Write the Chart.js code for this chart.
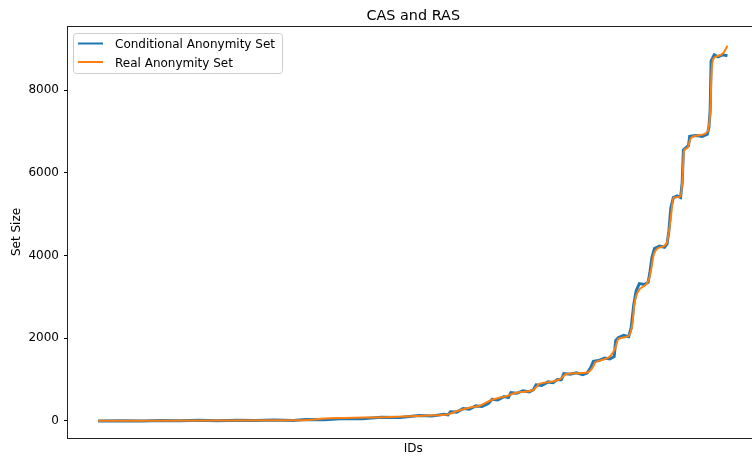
<!DOCTYPE html>
<html>
<head>
<meta charset="utf-8">
<title>CAS and RAS</title>
<script src="https://cdn.jsdelivr.net/npm/chart.js@4"></script>
<style>
  html, body { margin: 0; padding: 0; background: #fff; overflow: hidden; }
  #wrap { width: 760px; height: 458px; }
</style>
</head>
<body>
<div id="wrap"><canvas id="myChart"></canvas></div>
<script>
// Conditional Anonymity Set (blue, stepped and noisy)
const casIds = [0, 400, 700, 1000, 1300, 1600, 1900, 2200, 2500, 2800, 3100, 3300, 3600, 3900, 4200, 4500, 4800,
  5100, 5300, 5500, 5560, 5600, 5700, 5800, 5900, 6000, 6100, 6200, 6260, 6350, 6450, 6520, 6560, 6650, 6750,
  6850, 6920, 6960, 7050, 7150, 7230, 7300, 7360, 7400, 7500, 7600, 7700, 7770, 7830, 7870, 7950, 8050, 8130,
  8200, 8225, 8270, 8350, 8430, 8470, 8510, 8550, 8600, 8680, 8740, 8770, 8800, 8840, 8920, 9000, 9040, 9070,
  9100, 9140, 9200, 9255, 9280, 9300, 9350, 9380, 9400, 9500, 9600, 9680, 9705, 9725, 9740, 9790, 9850, 9920, 10000];
const casSizes = [0, 8, 2, 12, 6, 15, 8, 18, 10, 22, 14, 35, 30, 60, 55, 90, 85,
  130, 120, 160, 145, 225, 215, 300, 285, 365, 350, 420, 525, 510, 590, 565, 685, 670, 730,
  705, 760, 875, 860, 945, 925, 1005, 1000, 1145, 1130, 1165, 1120, 1160, 1300, 1440, 1460, 1520, 1500,
  1560, 1950, 2020, 2070, 2040, 2250, 2800, 3150, 3320, 3300, 3350, 3620, 3950, 4170, 4230, 4200, 4280, 4600,
  5150, 5400, 5440, 5400, 5750, 6550, 6620, 6650, 6880, 6900, 6880, 6930, 7100, 7500, 8700, 8850, 8800, 8850, 8830];

// Real Anonymity Set (orange, smooth)
const rasIds = [0, 3211, 3687, 4642, 5278, 5548, 5707, 5914, 6073, 6232, 6391, 6502, 6598, 6709, 6916, 7011,
  7234, 7345, 7440, 7774, 7854, 7901, 7981, 8140, 8219, 8267, 8426, 8490, 8522, 8585, 8744, 8792, 8824, 8903,
  9030, 9094, 9141, 9253, 9285, 9308, 9364, 9412, 9491, 9682, 9714, 9730, 9746, 9777, 9857, 9936, 10000];
const rasSizes = [5, 20, 65, 97, 133, 157, 242, 326, 375, 496, 568, 605, 665, 701, 750, 895,
  955, 1016, 1136, 1173, 1282, 1415, 1463, 1572, 1765, 1983, 2055, 2345, 2829, 3143, 3385, 3700, 3990, 4183,
  4280, 4836, 5392, 5428, 5852, 6529, 6601, 6819, 6891, 6988, 7254, 7568, 8390, 8753, 8826, 8898, 9068];

const yTicks = [0, 2000, 4000, 6000, 8000];
const seriesLabels = ["Conditional Anonymity Set", "Real Anonymity Set"];
const titleText = "CAS and RAS";

const ctx = document.getElementById("myChart");

Chart.defaults.font.family = "'DejaVu Sans', sans-serif";
Chart.defaults.font.size = 12;
Chart.defaults.color = "#000";

// spines, title and a matplotlib-like legend box
const framePlugin = {
  id: "frame",
  afterDraw(chart) {
    const c = chart.ctx;
    const a = chart.chartArea;
    c.save();
    c.strokeStyle = "#222";
    c.lineWidth = 1;
    c.strokeRect(a.left - 0.5, a.top + 0.5, a.right - a.left, a.bottom - a.top);

    c.fillStyle = "#000";
    c.font = "14.4px 'DejaVu Sans'";
    c.textAlign = "center";
    c.textBaseline = "alphabetic";
    c.fillText(titleText, (a.left + a.right) / 2, 20);

    c.beginPath();
    c.roundRect(73.5, 33.5, 209, 40, 3);
    c.fillStyle = "rgba(255,255,255,0.8)";
    c.fill();
    c.strokeStyle = "#cccccc";
    c.stroke();

    c.font = "12px 'DejaVu Sans'";
    c.textAlign = "left";
    chart.data.datasets.forEach((ds, i) => {
      const y = 43.5 + i * 18.5;
      c.beginPath();
      c.moveTo(78, y);
      c.lineTo(103, y);
      c.strokeStyle = ds.borderColor;
      c.lineWidth = 2;
      c.stroke();
      c.fillStyle = "#000";
      c.fillText(ds.label, 115, y + 4.5);
    });
    c.restore();
  }
};

new Chart(ctx, {
  type: "line",
  data: {
    datasets: [
      {
        label: seriesLabels[0],
        data: casIds.map((id, i) => ({ x: id, y: casSizes[i] })),
        borderColor: "#1f77b4",
        borderWidth: 3,
        pointRadius: 0,
        tension: 0,
        order: 2,
      },
      {
        label: seriesLabels[1],
        data: rasIds.map((id, i) => ({ x: id, y: rasSizes[i] })),
        borderColor: "#ff7f0e",
        borderWidth: 2,
        pointRadius: 0,
        cubicInterpolationMode: "monotone",
        order: 1,
      },
    ],
  },
  options: {
    responsive: true,
    maintainAspectRatio: false,
    animation: false,
    layout: { padding: { top: 26, right: 1.5, bottom: 0, left: 0 } },
    plugins: {
      legend: { display: false },
      title: { display: false },
      tooltip: { enabled: false },
    },
    scales: {
      x: {
        type: "linear",
        min: -477,
        max: 10493,
        grid: { display: false, drawTicks: false },
        border: { display: false },
        ticks: { display: false },
        title: { display: true, text: "IDs", font: { size: 12 }, padding: { top: 4, bottom: 1.6 } },
        afterFit(scale) { scale.height = 20; },
      },
      y: {
        min: -411,
        max: 9547,
        afterBuildTicks(scale) { scale.ticks = yTicks.map(v => ({ value: v })); },
        grid: { drawOnChartArea: false, drawTicks: true, tickLength: 4, color: "#000", lineWidth: 1 },
        border: { display: false },
        ticks: { padding: 5, font: { size: 12 }, callback: v => String(v) },
        title: { display: true, text: "Set Size", font: { size: 12 }, padding: { top: 10, bottom: 0 } },
        afterFit(scale) { scale.width = 68; },
      },
    },
  },
  plugins: [framePlugin],
});
</script>
</body>
</html>
